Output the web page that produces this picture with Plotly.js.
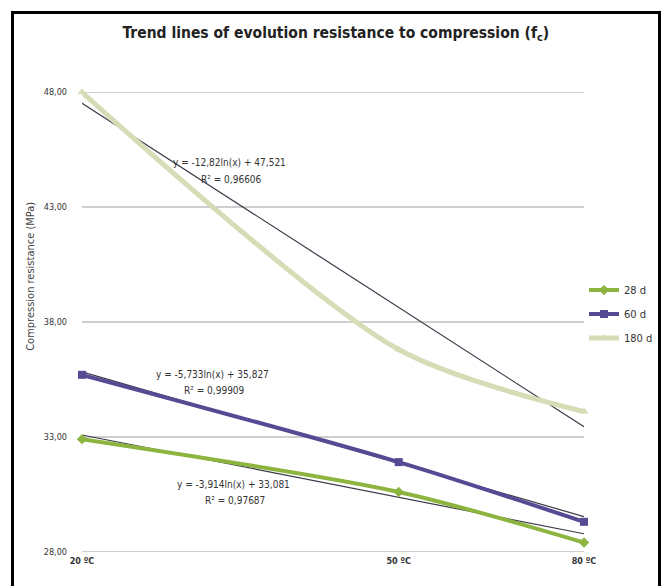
<!DOCTYPE html>
<html>
<head>
<meta charset="utf-8">
<script src="https://cdn.plot.ly/plotly-3.0.1.min.js"></script>
<style>
  html, body { margin: 0; padding: 0; background: #fff; }
  #wrap { position: relative; width: 665px; height: 586px; overflow: hidden; }
  #chart { width: 665px; height: 586px; }
  #frame { position: absolute; left: 11px; top: 11px; width: 644px; height: 600px;
           border: 3px solid #000; pointer-events: none; }
</style>
</head>
<body>
<div id="wrap"><div id="chart"></div><div id="frame"></div></div>
<script>
// Categories (Excel category index 1..3, shown on a log axis so ln-trendlines are straight)
const catIndex = [1, 2, 3];
const catLabels = ["20 ºC", "50 ºC", "80 ºC"];

// Series values (MPa)
const seriesNames = ["28 d", "60 d", "180 d"];
const v28 = [32.9, 30.6, 28.4];
const v60 = [35.7, 31.9, 29.3];
const v180 = [48.0, 36.8, 34.1];

// Logarithmic trendline coefficients y = a*ln(x) + b and R²
const trendA = [-3.914, -5.733, -12.82];
const trendB = [33.081, 35.827, 47.521];
const trendR2 = ["0,97687", "0,99909", "0,96606"];
const trendEqText = [
  "y = -3,914ln(x) + 33,081",
  "y = -5,733ln(x) + 35,827",
  "y = -12,82ln(x) + 47,521"
];

const yTicks = [28, 33, 38, 43, 48];

const colors = ["#8db43e", "#554a93", "#d6ddb6"];
const symbols = ["diamond", "square", "triangle-up"];
const lineWidths = [4, 4, 5];
const values = [v28, v60, v180];

const FONT = "'Liberation Sans Narrow', 'DejaVu Sans Condensed', 'Liberation Sans', sans-serif";

const traces = [];
for (let i = 0; i < 3; i++) {
  traces.push({
    x: catIndex,
    y: catIndex.map(x => trendA[i] * Math.log(x) + trendB[i]),
    type: "scatter", mode: "lines",
    line: { color: "#3a3a48", width: 1.2 },
    showlegend: false, hoverinfo: "skip", cliponaxis: false
  });
}
for (let i = 0; i < 3; i++) {
  traces.push({
    x: catIndex, y: values[i], name: seriesNames[i],
    type: "scatter", mode: "lines+markers",
    line: { color: colors[i], width: lineWidths[i], shape: "spline", smoothing: 0.8 },
    marker: { color: colors[i], symbol: symbols[i], size: 8 },
    legendgroup: "g" + i, cliponaxis: false
  });
}

const eqPos = [
  { x: 0.301, y: 0.130, ry: 0.096 },
  { x: 0.259, y: 0.385, ry: 0.352 },
  { x: 0.293, y: 0.863, ry: 0.826 }
];
const toPaper = f => (f * 460 + 2) / 464;
const annotations = [];
for (let i = 0; i < 3; i++) {
  annotations.push({ xref: "paper", yref: "paper", x: eqPos[i].x, y: toPaper(eqPos[i].y), xanchor: "center",
    text: trendEqText[i], showarrow: false, font: { family: FONT, size: 10, color: "#333" } });
  annotations.push({ xref: "paper", yref: "paper", x: eqPos[i].x + 0.004, y: toPaper(eqPos[i].ry), xanchor: "center",
    text: "R² = " + trendR2[i], showarrow: false, font: { family: FONT, size: 10, color: "#333" } });
}
annotations.push({ xref: "paper", yref: "paper", x: -0.104, y: toPaper(0.60), xanchor: "center", yanchor: "middle",
  textangle: -90, text: "Compression resistance (MPa)", showarrow: false,
  font: { family: "'DejaVu Sans Condensed', 'Liberation Sans Narrow', sans-serif", size: 11, color: "#444" } });

const layout = {
  width: 665, height: 586,
  margin: { l: 82, r: 81, t: 90, b: 32, autoexpand: false },
  paper_bgcolor: "#fff", plot_bgcolor: "#fff",
  separators: ",.",
  title: { text: "<b>Trend lines of evolution resistance to compression (f<sub>c</sub>)</b>",
           x: 0.505, xanchor: "center", y: 0.944, yanchor: "middle",
           font: { family: FONT, size: 15.5, color: "#222" } },
  xaxis: { type: "log", range: [0, Math.log10(3)], tickvals: catIndex,
           ticktext: catLabels.map(t => "<b>" + t + "</b>"),
           showgrid: false, zeroline: false, showline: false, ticks: "",
           tickfont: { family: FONT, size: 9, color: "#333" } },
  yaxis: { range: [27.9, 48.1], tickvals: yTicks, tickformat: ".2f",
           showgrid: true, gridcolor: "#cfcfcf", gridwidth: 1.5, zeroline: false,
           showline: false, ticks: "", ticklabelstandoff: 14,
           tickfont: { family: FONT, size: 9, color: "#333" } },
  legend: { x: 1.0, y: 0.6, xanchor: "left", yanchor: "top",
            traceorder: "grouped", tracegroupgap: 5, itemwidth: 30,
            font: { family: FONT, size: 11, color: "#333" }, bgcolor: "rgba(0,0,0,0)" },
  showlegend: true,
  annotations: annotations
};

Plotly.newPlot("chart", traces, layout, { displayModeBar: false, staticPlot: true });
</script>
</body>
</html>
